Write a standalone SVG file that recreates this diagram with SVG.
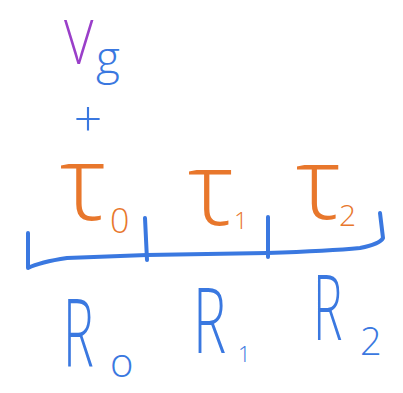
<svg xmlns="http://www.w3.org/2000/svg" width="403" height="393" viewBox="0 0 403 393">
<style>
.t{font-family:"Open Sans","Liberation Sans",sans-serif;font-weight:300}
.blue{fill:#3a78e0}
.org{fill:#e8772c}
.pur{fill:#9a3fc9}
.ln{fill:none;stroke:#3a78e0;stroke-width:4;stroke-linecap:round;stroke-linejoin:round}
</style>
<rect width="403" height="393" fill="#fff"/>
<g id="vg">
<text class="t pur" transform="translate(64,64) scale(0.85,1)" font-size="60">V</text>
<text class="t blue" x="96" y="74" font-size="46">g</text>
</g>
<g id="plus"><text class="t blue" x="88" y="137" font-size="50" text-anchor="middle">+</text></g>
<g id="tau0">
<text class="t org" x="60" y="220" font-size="105">τ</text>
<text class="t org" x="110" y="233" font-size="34">0</text>
</g>
<g id="tau1">
<text class="t org" x="188" y="225" font-size="104">τ</text>
<text class="t org" x="234" y="229" font-size="24">1</text>
</g>
<g id="tau2">
<text class="t org" x="296" y="219" font-size="102">τ</text>
<text class="t org" x="339" y="226" font-size="30">2</text>
</g>
<g id="connectors">
<path class="ln" d="M28,233 L28,268 Q40,262 67,258 L147,255 L267,253 Q330,251 360,248 Q380,244 383,238 L380,213"/>
<path class="ln" d="M145,218 L147,260"/>
<path class="ln" d="M268,217 L268,257"/>
</g>
<g id="r0">
<text class="t blue" transform="translate(63,366) scale(0.55,1)" font-size="94">R</text>
<text class="t blue" x="110" y="377" font-size="40">o</text>
</g>
<g id="r1">
<text class="t blue" transform="translate(193,353) scale(0.62,1)" font-size="90">R</text>
<text class="t blue" x="238" y="362" font-size="22">1</text>
</g>
<g id="r2">
<text class="t blue" transform="translate(313,340) scale(0.55,1)" font-size="90">R</text>
<text class="t blue" x="360" y="355" font-size="38">2</text>
</g>
</svg>
